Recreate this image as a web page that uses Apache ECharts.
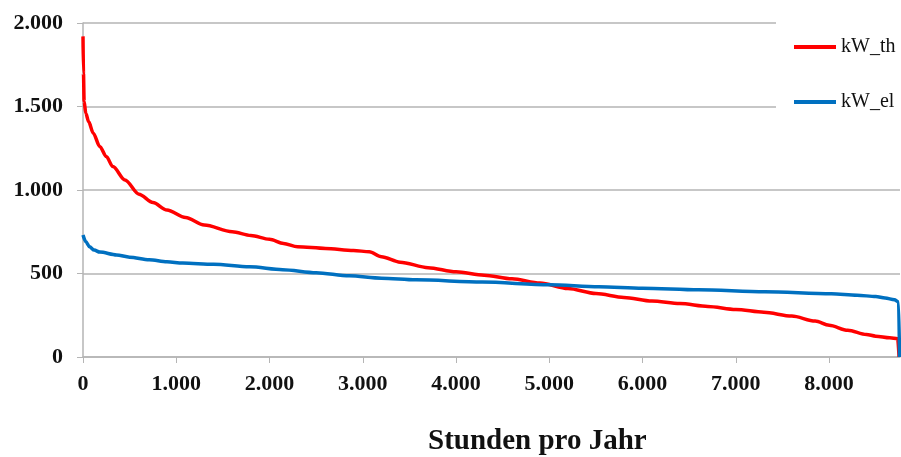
<!DOCTYPE html>
<html>
<head>
<meta charset="utf-8">
<script src="https://cdn.jsdelivr.net/npm/echarts@6/dist/echarts.min.js"></script>
<style>
html,body{margin:0;padding:0;background:#fff;}
#chart{width:901px;height:457px;}
</style>
</head>
<body>
<div id="chart"></div>
<script>
// Data (load duration curves)
const xTicks = [0, 1000, 2000, 3000, 4000, 5000, 6000, 7000, 8000];
const yTicks = [0, 500, 1000, 1500, 2000];
const seriesNames = ['kW_th', 'kW_el'];

const thHours  = [0, 5, 12, 30, 60, 110, 180, 250, 320, 450, 600, 750, 900, 1100, 1300, 1600, 1800, 2000, 2150, 2300, 2600, 2900, 3070, 3200, 3400, 3700, 4000, 4300, 4600, 4900, 5200, 5500, 5800, 6100, 6400, 6700, 7000, 7300, 7600, 7850, 8000, 8200, 8400, 8500, 8650, 8735, 8750];
const thValues = [1920, 1700, 1530, 1460, 1410, 1340, 1260, 1200, 1140, 1060, 975, 925, 880, 835, 790, 750, 728, 705, 680, 660, 650, 638, 630, 600, 568, 535, 510, 490, 468, 443, 410, 380, 357, 335, 320, 303, 285, 268, 245, 215, 190, 160, 135, 125, 115, 110, 0];

const elHours  = [0, 30, 70, 120, 180, 360, 500, 710, 900, 1070, 1400, 1785, 2140, 2500, 2855, 3200, 3570, 4280, 5000, 5530, 6000, 6600, 7310, 8025, 8300, 8500, 8600, 8700, 8745, 8755];
const elValues = [730, 690, 660, 640, 628, 611, 598, 582, 570, 563, 555, 540, 523, 505, 486, 472, 462, 449, 432, 420, 412, 402, 390, 378, 370, 362, 353, 343, 330, 0];

function pairs(xs, ys) { return xs.map((x, i) => [x, ys[i]]); }
function fmt(v) { return String(v).replace(/\B(?=(\d{3})+(?!\d))/g, '.'); }

const serif = "'Liberation Serif', 'Times New Roman', serif";
const chart = echarts.init(document.getElementById('chart'));
chart.setOption({
  backgroundColor: '#ffffff',
  animation: false,
  title: {
    text: 'Stunden pro Jahr',
    left: 428,
    top: 427,
    padding: 0,
    textStyle: { fontFamily: serif, fontWeight: 'bold', fontSize: 29, color: '#111' }
  },
  legend: {
    data: seriesNames,
    orient: 'vertical',
    left: 776,
    top: 20,
    padding: [17, 6, 6, 18],
    itemGap: 35,
    itemWidth: 42,
    itemHeight: 4,
    icon: 'rect',
    backgroundColor: '#ffffff',
    z: 10,
    textStyle: { fontFamily: serif, fontSize: 20, lineHeight: 20, color: '#111' }
  },
  grid: { left: 83, width: 817, top: 23, bottom: 100, containLabel: false },
  xAxis: {
    type: 'value',
    min: 0,
    max: 8760,
    interval: 1000,
    axisLine: { show: true, lineStyle: { color: '#b5b5b5', width: 1.5 } },
    axisTick: { show: true, length: 6, lineStyle: { color: '#b5b5b5' }, customValues: xTicks },
    axisLabel: {
      customValues: xTicks,
      formatter: fmt,
      margin: 16,
      fontFamily: serif, fontWeight: 'bold', fontSize: 22, color: '#111'
    },
    splitLine: { show: false }
  },
  yAxis: {
    type: 'value',
    min: 0,
    max: 2000,
    interval: 500,
    axisLine: { show: true, lineStyle: { color: '#b5b5b5', width: 1.5 } },
    axisTick: { show: true, length: 6, lineStyle: { color: '#b5b5b5' } },
    axisLabel: {
      formatter: fmt,
      margin: 20,
      fontFamily: serif, fontWeight: 'bold', fontSize: 22, color: '#111'
    },
    splitLine: { show: true, lineStyle: { color: '#b5b5b5', width: 1.5 } }
  },
  series: [
    {
      name: 'kW_th',
      type: 'line',
      data: pairs(thHours, thValues),
      showSymbol: false,
      smooth: 0.3,
      smoothMonotone: 'x',
      color: '#ff0000',
      lineStyle: { color: '#ff0000', width: 3.5 }
    },
    {
      name: 'kW_el',
      type: 'line',
      data: pairs(elHours, elValues),
      showSymbol: false,
      smooth: 0.3,
      smoothMonotone: 'x',
      color: '#0070c0',
      lineStyle: { color: '#0070c0', width: 3.5 }
    }
  ]
});
</script>
</body>
</html>
